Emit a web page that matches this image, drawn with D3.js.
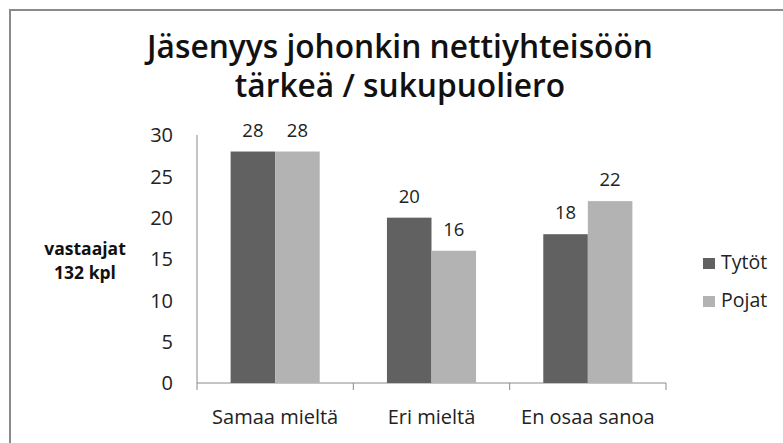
<!DOCTYPE html>
<html>
<head>
<meta charset="utf-8">
<script src="https://cdn.jsdelivr.net/npm/d3@7"></script>
<style>
  body { margin: 0; background: #fff; }
  svg text { font-family: "Open Sans", sans-serif; }
</style>
</head>
<body>
<div id="chart"></div>
<script>
const categories = ["Samaa mieltä", "Eri mieltä", "En osaa sanoa"];
const seriesNames = ["Tytöt", "Pojat"];
const tytot = [28, 20, 18];
const pojat = [28, 16, 22];
const yTicks = [0, 5, 10, 15, 20, 25, 30];
const colors = ["#616161", "#b3b3b3"];

const W = 783, H = 443;
const plot = { left: 197, right: 666, top: 135, bottom: 383 };

const svg = d3.select("#chart").append("svg")
  .attr("width", W)
  .attr("height", H);

// outer frame (runs off the right and bottom edge)
svg.append("rect")
  .attr("x", 10).attr("y", 10)
  .attr("width", W + 20).attr("height", H + 20)
  .attr("fill", "#fff")
  .attr("stroke", "#8a8a8a")
  .attr("stroke-width", 2);

// title
const title = svg.append("g")
  .attr("font-weight", 600)
  .attr("fill", "#111")
  .attr("text-anchor", "middle");
const t1 = title.append("text")
  .attr("x", 400).attr("y", 58)
  .attr("font-size", 28)
  .text("Jäsenyys johonkin nettiyhteisöön");
// size the title so the first line is as wide as in the original
const titleSize = 28 * 506 / t1.node().getComputedTextLength();
t1.attr("font-size", titleSize);
title.append("text")
  .attr("x", 400).attr("y", 97)
  .attr("font-size", titleSize)
  .text("tärkeä / sukupuoliero");

const x0 = d3.scaleBand()
  .domain(categories)
  .range([plot.left, plot.right])
  .paddingInner(0.43)
  .paddingOuter(0.215);

const x1 = d3.scaleBand()
  .domain(seriesNames)
  .range([0, x0.bandwidth()]);

const y = d3.scaleLinear()
  .domain([0, 30])
  .range([plot.bottom, plot.top]);

const data = categories.map((c, i) => ({
  category: c,
  values: [
    { name: seriesNames[0], value: tytot[i] },
    { name: seriesNames[1], value: pojat[i] },
  ],
}));

// y axis: line + labels
svg.append("line")
  .attr("x1", plot.left).attr("x2", plot.left)
  .attr("y1", y(30)).attr("y2", plot.bottom)
  .attr("stroke", "#8a8a8a");

svg.append("g")
  .selectAll("text")
  .data(yTicks)
  .join("text")
  .attr("x", 173)
  .attr("y", (d) => y(d))
  .attr("dy", "0.36em")
  .attr("text-anchor", "end")
  .attr("font-size", 20)
  .attr("fill", "#222")
  .text((d) => d);

// x axis: baseline with ticks between categories
const step = x0.step();
const boundaries = d3.range(categories.length + 1).map((i) => plot.left + i * step);

svg.append("line")
  .attr("x1", plot.left).attr("x2", plot.right)
  .attr("y1", plot.bottom).attr("y2", plot.bottom)
  .attr("stroke", "#8a8a8a");

svg.append("g")
  .selectAll("line")
  .data(boundaries)
  .join("line")
  .attr("x1", (d) => d).attr("x2", (d) => d)
  .attr("y1", plot.bottom).attr("y2", plot.bottom + 7)
  .attr("stroke", "#8a8a8a");

svg.append("g")
  .selectAll("text")
  .data(categories)
  .join("text")
  .attr("x", (d) => x0(d) + x0.bandwidth() / 2)
  .attr("y", 424)
  .attr("text-anchor", "middle")
  .attr("font-size", 20)
  .attr("fill", "#222")
  .text((d) => d);

// bars
const groups = svg.append("g")
  .selectAll("g")
  .data(data)
  .join("g")
  .attr("transform", (d) => `translate(${x0(d.category)},0)`);

groups.selectAll("rect")
  .data((d) => d.values)
  .join("rect")
  .attr("x", (d) => x1(d.name))
  .attr("y", (d) => y(d.value))
  .attr("width", x1.bandwidth())
  .attr("height", (d) => y(0) - y(d.value))
  .attr("fill", (d, i) => colors[i]);

groups.selectAll("text")
  .data((d) => d.values)
  .join("text")
  .attr("x", (d) => x1(d.name) + x1.bandwidth() / 2)
  .attr("y", (d) => y(d.value) - 15)
  .attr("text-anchor", "middle")
  .attr("font-size", 18.5)
  .attr("fill", "#222")
  .text((d) => d.value);

// axis title
svg.append("text")
  .attr("x", 85).attr("y", 255)
  .attr("text-anchor", "middle")
  .attr("font-size", 17.5).attr("font-weight", "bold")
  .attr("fill", "#111")
  .text("vastaajat");
svg.append("text")
  .attr("x", 85).attr("y", 279)
  .attr("text-anchor", "middle")
  .attr("font-size", 17.5).attr("font-weight", "bold")
  .attr("fill", "#111")
  .text("132 kpl");

// legend
const legend = svg.append("g")
  .selectAll("g")
  .data(seriesNames)
  .join("g")
  .attr("transform", (d, i) => `translate(703,${258 + i * 38})`);

legend.append("rect")
  .attr("width", 12).attr("height", 11)
  .attr("fill", (d, i) => colors[i]);

legend.append("text")
  .attr("x", 18).attr("y", 11)
  .attr("font-size", 19.5)
  .attr("fill", "#222")
  .text((d) => d);
</script>
</body>
</html>
